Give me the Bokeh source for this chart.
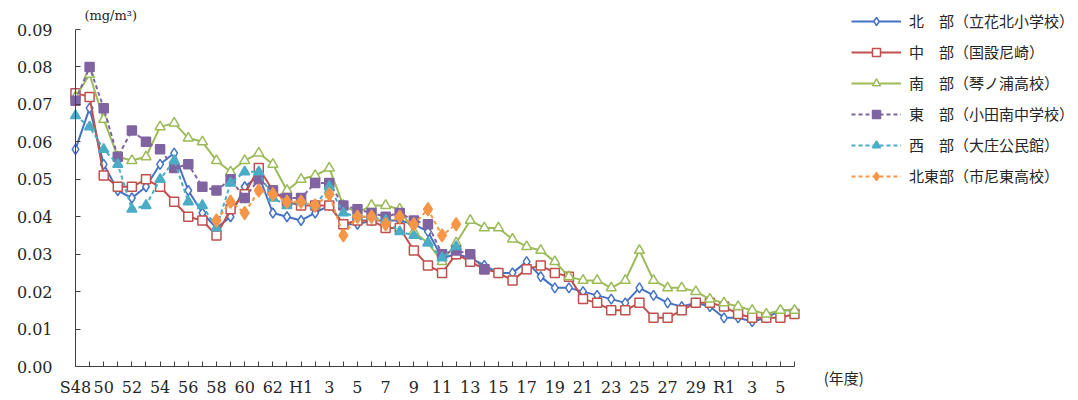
from bokeh.plotting import figure
from bokeh.models import Range1d, FixedTicker, NumeralTickFormatter, Label
from bokeh.embed import file_html
from bokeh.resources import INLINE
import numpy as np

# fiscal years (S48 .. R6)
years = ["S48", "S49", "S50", "S51", "S52", "S53", "S54", "S55", "S56", "S57",
         "S58", "S59", "S60", "S61", "S62", "S63", "H1", "H2", "H3", "H4",
         "H5", "H6", "H7", "H8", "H9", "H10", "H11", "H12", "H13", "H14",
         "H15", "H16", "H17", "H18", "H19", "H20", "H21", "H22", "H23", "H24",
         "H25", "H26", "H27", "H28", "H29", "H30", "R1", "R2", "R3", "R4",
         "R5", "R6"]
tick_labels = ["S48", "50", "52", "54", "56", "58", "60", "62", "H1", "3", "5", "7",
               "9", "11", "13", "15", "17", "19", "21", "23", "25", "27", "29",
               "R1", "3", "5"]
y_ticks = [0.00, 0.01, 0.02, 0.03, 0.04, 0.05, 0.06, 0.07, 0.08, 0.09]

names = ["北　部（立花北小学校）", "中　部（国設尼崎）", "南　部（琴ノ浦高校）",
         "東　部（小田南中学校）", "西　部（大庄公民館）", "北東部（市尼東高校）"]

north = [0.058, 0.069, 0.054, 0.047, 0.045, 0.048, 0.054, 0.057, 0.047, 0.041,
         0.037, 0.040, 0.048, 0.051, 0.041, 0.040, 0.039, 0.041, 0.043, 0.038,
         0.038, 0.039, 0.039, 0.039, 0.038, 0.036, 0.029, 0.030, 0.029, 0.027,
         0.025, 0.025, 0.028, 0.024, 0.021, 0.021, 0.020, 0.019, 0.018, 0.017,
         0.021, 0.019, 0.017, 0.016, 0.017, 0.016, 0.013, 0.013, 0.012, 0.013,
         0.015, 0.015]
central = [0.073, 0.072, 0.051, 0.048, 0.048, 0.050, 0.048, 0.044, 0.040, 0.039,
           0.035, 0.042, 0.046, 0.053, 0.047, 0.044, 0.043, 0.043, 0.043, 0.038,
           0.039, 0.039, 0.037, 0.037, 0.031, 0.027, 0.025, 0.030, 0.028, 0.026,
           0.025, 0.023, 0.026, 0.027, 0.025, 0.024, 0.018, 0.017, 0.015, 0.015,
           0.017, 0.013, 0.013, 0.015, 0.017, 0.017, 0.016, 0.014, 0.013, 0.013,
           0.013, 0.014]
south = [0.072, 0.078, 0.066, 0.056, 0.055, 0.056, 0.064, 0.065, 0.061, 0.060,
         0.055, 0.052, 0.055, 0.057, 0.054, 0.047, 0.050, 0.051, 0.053, 0.043,
         0.041, 0.043, 0.043, 0.042, 0.036, 0.033, 0.028, 0.033, 0.039, 0.037,
         0.037, 0.034, 0.032, 0.031, 0.028, 0.024, 0.023, 0.023, 0.021, 0.023,
         0.031, 0.023, 0.021, 0.021, 0.020, 0.018, 0.017, 0.016, 0.015, 0.014,
         0.015, 0.015]
east = [0.071, 0.080, 0.069, 0.056, 0.063, 0.060, 0.058, 0.053, 0.054, 0.048,
        0.047, 0.050, 0.045, 0.050, 0.047, 0.045, 0.045, 0.049, 0.049, 0.043,
        0.042, 0.041, 0.040, 0.041, 0.039, 0.038, 0.030, 0.031, 0.030, 0.026] + [None] * 22
west = [0.067, 0.064, 0.058, 0.054, 0.042, 0.043, 0.050, 0.055, 0.044, 0.043,
        0.037, 0.049, 0.052, 0.052, 0.045, 0.043, 0.044, 0.043, 0.048, 0.041,
        0.040, 0.040, 0.039, 0.036, 0.035, 0.033, 0.029, 0.032] + [None] * 24
northeast = [None] * 10 + [0.039, 0.044, 0.041, 0.047, 0.046, 0.044, 0.044, 0.043,
                           0.046, 0.035, 0.040, 0.040, 0.038, 0.040, 0.038, 0.042,
                           0.035, 0.038] + [None] * 24

series = [north, central, south, east, west, northeast]
colors = ["#4472C4", "#C0504D", "#9BBB59", "#8064A2", "#4BACC6", "#F79646"]
markers = ["diamond", "square", "triangle", "square", "triangle", "diamond"]
sizes = [10, 9, 10, 9, 10, 13]
filled = [False, False, False, True, True, True]
dashes = ["solid", "solid", "solid", "4 3", "4 3", "4 3"]

TXT = "#262626"
SERIF = "DejaVu Serif"
JP = "Noto Sans CJK JP"

W, H = 1078, 400
X0_PX, X51_PX = 75.0, 794.0        # pixel positions of first / last category
Y0_PX, Y9_PX = 366.0, 29.0         # pixel positions of 0.00 / 0.09
dx = (X51_PX - X0_PX) / (len(years) - 1)
dy = (Y0_PX - Y9_PX) / 0.09

p = figure(width=W, height=H, output_backend="svg", toolbar_location=None,
           x_range=Range1d(-X0_PX / dx, (W - X0_PX) / dx),
           y_range=Range1d(-(H - Y0_PX) / dy, Y0_PX / dy),
           min_border_left=0, min_border_right=0, min_border_top=0,
           min_border_bottom=0)
p.outline_line_color = None
p.xgrid.visible = False
p.ygrid.visible = False

x = np.arange(len(years))
for vals, col, mk, sz, fl, dash, name in zip(series, colors, markers, sizes, filled, dashes, names):
    y = np.array([np.nan if v is None else v for v in vals], dtype=float)
    p.line(x, y, line_color=col, line_width=2, line_dash=dash, legend_label=name)
    p.scatter(x, y, marker=mk, size=sz, line_color=col, line_width=1.5,
              fill_color=col if fl else "white", legend_label=name)

# x axis
xa = p.xaxis[0]
xa.fixed_location = 0
xa.bounds = (0, len(years) - 1)
major = [i for i in range(0, len(years), 2)]
minor = [i for i in range(1, len(years), 2)]
xa.ticker = FixedTicker(ticks=major, minor_ticks=minor)
xa.major_label_overrides = {i: lab for i, lab in zip(major, tick_labels)}
xa.major_tick_in = 5
xa.major_tick_out = 0
xa.minor_tick_in = 5
xa.minor_tick_out = 0
xa.major_label_standoff = 11
xa.major_label_text_font = SERIF
xa.major_label_text_font_size = "16px"
xa.major_label_text_color = TXT
xa.axis_line_color = "#404040"
xa.major_tick_line_color = "#404040"
xa.minor_tick_line_color = "#404040"

# y axis
ya = p.yaxis[0]
ya.fixed_location = 0
ya.bounds = (0, 0.09)
ya.ticker = FixedTicker(ticks=y_ticks, minor_ticks=[])
ya.formatter = NumeralTickFormatter(format="0.00")
ya.major_tick_in = 5
ya.major_tick_out = 0
ya.minor_tick_in = 0
ya.minor_tick_out = 0
ya.major_label_standoff = 23
ya.major_label_text_font = SERIF
ya.major_label_text_font_size = "16px"
ya.major_label_text_color = TXT
ya.axis_line_color = "#404040"
ya.major_tick_line_color = "#404040"

p.add_layout(Label(x=2.5, y=0.0937, text="(mg/m³)", text_font=SERIF,
                   text_font_size="13px", text_color=TXT, text_align="center",
                   text_baseline="middle"))
p.add_layout(Label(x=54.5, y=-0.0029, text="(年度)", text_font=JP,
                   text_font_size="15px", text_color=TXT, text_align="center",
                   text_baseline="middle"))

lg = p.legend[0]
lg.location = (851, 214)
lg.padding = 0
lg.margin = 0
lg.spacing = 10
lg.glyph_width = 50
lg.glyph_height = 20
lg.label_height = 20
lg.label_standoff = 8
lg.label_text_font = JP
lg.label_text_font_size = "15px"
lg.label_text_color = TXT
lg.border_line_color = None
lg.background_fill_alpha = 0

open("out.html", "w").write(file_html(p, INLINE))
